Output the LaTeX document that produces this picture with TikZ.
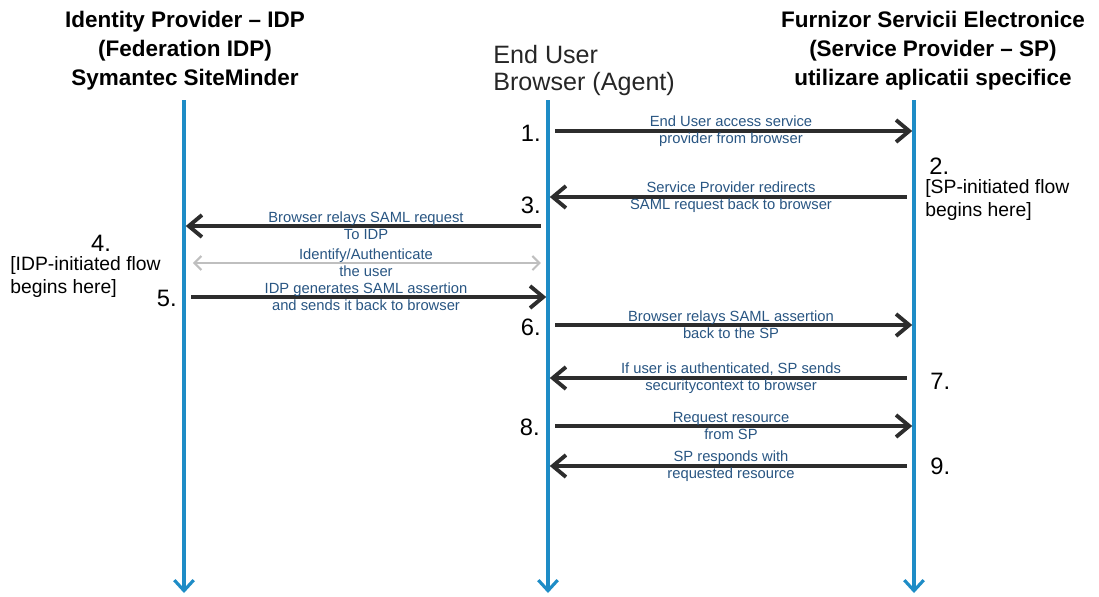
\documentclass[tikz,border=0pt]{standalone}
\usepackage{fontspec}
\setmainfont{Liberation Sans}
\usetikzlibrary{arrows.meta}

\definecolor{lifeblue}{RGB}{30,140,198}
\definecolor{msgblue}{RGB}{40,85,130}
\definecolor{msgdark}{RGB}{45,45,45}

\begin{document}
\begin{tikzpicture}[x=0.02cm,y=-0.02cm]
            \tikzstyle{party}=[font=\bfseries\fontsize{12.8}{16.5}\selectfont,align=center,inner sep=0pt]
            \tikzstyle{lifeline}=[draw=lifeblue,line width=1.8pt,-{Straight Barb[length=6pt,width=11pt]}]
            \tikzstyle{msg}=[draw=msgdark,line width=2.2pt,shorten <=4pt,shorten >=1pt,-{Straight Barb[length=7.5pt,width=12.5pt]}]
            \tikzstyle{msglabel}=[text=msgblue,font=\fontsize{8.4}{9.6}\selectfont,align=center,inner sep=0pt]
            \tikzstyle{stepnum}=[font=\fontsize{13.5}{14}\selectfont,inner sep=0pt]
            \tikzstyle{note}=[font=\fontsize{11}{13.6}\selectfont,align=left,inner sep=0pt]
            \useasboundingbox (0,0) rectangle (1099,596);

                    % the three parties
                    \node[party] (idp-title) at (185,51) {Identity Provider -- IDP\\(Federation IDP)\\Symantec SiteMinder};
                    \node[party] (sp-title) at (933,51) {Furnizor Servicii Electronice\\(Service Provider -- SP)\\utilizare aplicatii specifice};
                    \node[font=\fontsize{14.3}{15.3}\selectfont,text=black!85,align=left,inner sep=0pt,anchor=north west] (agent-title) at (493,45) {End User\\Browser (Agent)};

                    % lifelines
                    \coordinate (I-top) at (184,100);
                    \coordinate (I-end) at (184,593);
                    \coordinate (B-top) at (548,100);
                    \coordinate (B-end) at (548,593);
                    \coordinate (S-top) at (914,100);
                    \coordinate (S-end) at (914,593);
                \foreach \p in {I,B,S}
                    \draw[lifeline] (\p-top) -- (\p-end);

                    % one row per message
                \foreach \n/\y in {1/131, 2/197, 3/226, 4/263, 5/297, 6/325, 7/378, 8/426, 9/466}{
                    \coordinate (I-\n) at (184,\y);
                    \coordinate (B-\n) at (548,\y);
                    \coordinate (S-\n) at (914,\y);
                }

                \foreach \from/\to/\txt in {B-1/S-1/{End User access service\\provider from browser},
                                            S-2/B-2/{Service Provider redirects\\SAML request back to browser},
                                            B-3/I-3/{Browser relays SAML request\\To IDP},
                                            I-5/B-5/{IDP generates SAML assertion\\and sends it back to browser},
                                            B-6/S-6/{Browser relays SAML assertion\\back to the SP},
                                            S-7/B-7/{If user is authenticated, SP sends\\securitycontext to browser},
                                            B-8/S-8/{Request resource\\from SP},
                                            S-9/B-9/{SP responds with\\requested resource}}
                    \draw[msg] (\from) -- node[msglabel]{\txt} (\to);

                    \draw[draw=black!25,line width=1.2pt,shorten <=5pt,shorten >=4pt,{Straight Barb[length=4pt,width=8pt]}-{Straight Barb[length=4pt,width=8pt]}]
                        (I-4) -- node[msglabel]{Identify/Authenticate\\the user} (B-4);

                    % step numbers
                    \node[stepnum,anchor=east] (n-1) at (541,133) {1.};
                    \node[stepnum,anchor=west] (n-2) at (929,166) {2.};
                    \node[stepnum,anchor=east] (n-3) at (541,205) {3.};
                    \node[stepnum] (n-4) at (101,243) {4.};
                    \node[stepnum,anchor=east] (n-5) at (177,298) {5.};
                    \node[stepnum,anchor=east] (n-6) at (541,327) {6.};
                    \node[stepnum,anchor=west] (n-7) at (930,381) {7.};
                    \node[stepnum,anchor=east] (n-8) at (540,427) {8.};
                    \node[stepnum,anchor=west] (n-9) at (930,466) {9.};

                    \node[note,anchor=west] (sp-flow) at (925,200) {[SP-initiated flow\\begins here]};
                    \node[note,anchor=west] (idp-flow) at (10,277) {[IDP-initiated flow\\begins here]};
        \end{tikzpicture}
\end{document}
